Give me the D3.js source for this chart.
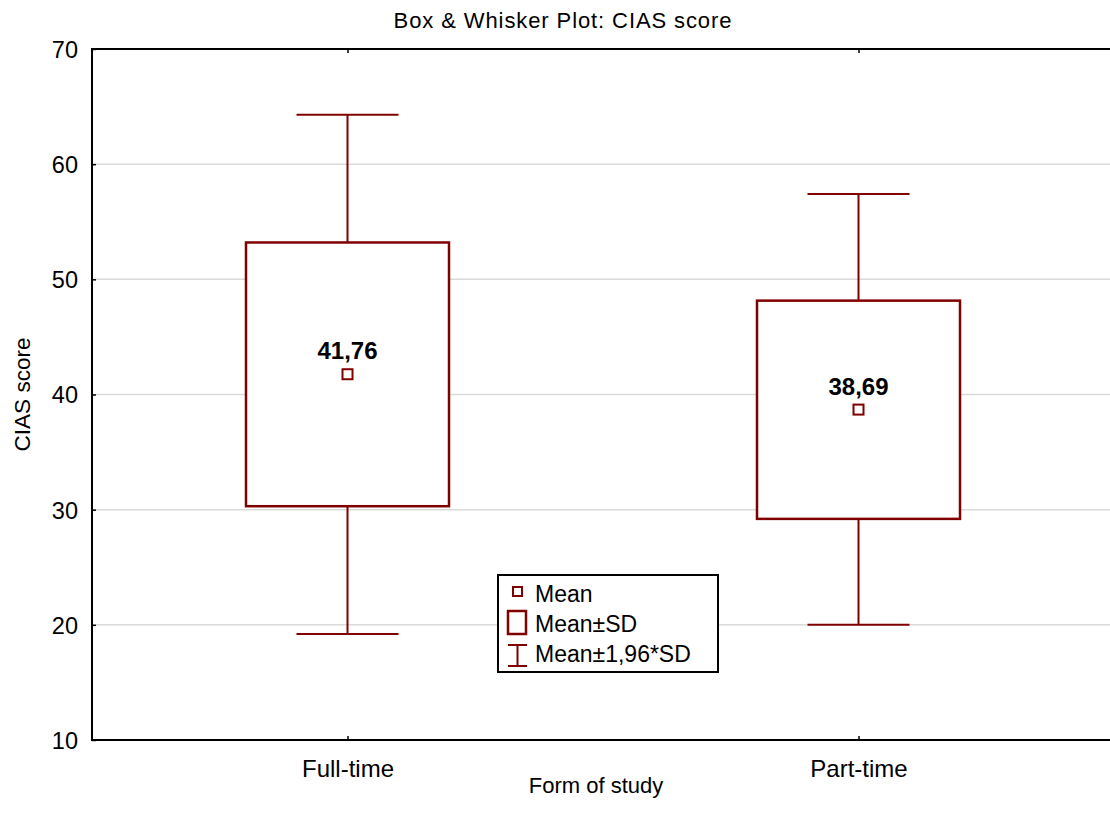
<!DOCTYPE html>
<html>
<head>
<meta charset="utf-8">
<script src="https://cdn.jsdelivr.net/npm/d3@7"></script>
<style>
  body { margin: 0; background: #fff; }
  svg { font-family: Arial, "Liberation Sans", sans-serif; }
</style>
</head>
<body>
<svg id="chart" width="1110" height="825"></svg>
<script>
// values
const groups = ["Full-time", "Part-time"]
const means = [41.76, 38.69]
const sdLow = [30.3, 29.2]
const sdHigh = [53.2, 48.15]
const ciLow = [19.2, 20.0]
const ciHigh = [64.3, 57.4]
const yTicks = [10, 20, 30, 40, 50, 60, 70]

const width = 1110, height = 825
const margin = {left: 92, top: 49, bottom: 85}
const red = "#800000"

const svg = d3.select("#chart")

const x = d3.scalePoint()
    .domain(groups)
    .range([margin.left, 1114])
    .padding(0.5)

const y = d3.scaleLinear()
    .domain([10, 70])
    .range([height - margin.bottom, margin.top])

// grid
svg.append("g")
    .selectAll("line")
    .data(yTicks.filter(t => t > 10 && t < 70))
    .enter()
    .append("line")
    .attr("x1", margin.left)
    .attr("x2", width)
    .attr("y1", d => y(d))
    .attr("y2", d => y(d))
    .style("stroke", "#dadada")
    .style("stroke-width", 1.5)

// y axis, ticks inward
const yAxis = d3.axisLeft(y).tickValues(yTicks).tickSize(-4).tickPadding(14)
const gy = svg.append("g")
    .attr("transform", "translate(" + margin.left + ",0)")
    .call(yAxis)
gy.select(".domain").remove()
gy.selectAll("line").style("stroke", "#000").style("stroke-width", 1.5)
gy.selectAll("text")
    .style("font-size", "23.5px")
    .style("font-family", "Arial, 'Liberation Sans', sans-serif")
    .attr("fill", "#000")
    .attr("dy", "0.36em")

// x axis, ticks inward
const xAxis = d3.axisBottom(x).tickSize(-4).tickPadding(20)
const gx = svg.append("g")
    .attr("transform", "translate(0," + y(10) + ")")
    .call(xAxis)
gx.select(".domain").remove()
gx.selectAll("line").style("stroke", "#000").style("stroke-width", 1.5)
gx.selectAll("text")
    .style("font-size", "24px")
    .style("font-family", "Arial, 'Liberation Sans', sans-serif")
    .attr("fill", "#000")

// top ticks
const xTop = d3.axisTop(x).tickSize(-4).tickFormat("")
const gt = svg.append("g")
    .attr("transform", "translate(0," + y(70) + ")")
    .call(xTop)
gt.select(".domain").remove()
gt.selectAll("line").style("stroke", "#000").style("stroke-width", 1.5)

// frame: left, top, bottom
svg.append("path")
    .attr("d", "M" + width + "," + y(70) + "H" + margin.left + "V" + y(10) + "H" + width)
    .style("fill", "none")
    .style("stroke", "#000")
    .style("stroke-width", 2)

const boxW = 203, capW = 102

const g = svg.append("g")
    .selectAll("g")
    .data(groups.map((d, i) => ({name: d, i: i})))
    .enter()
    .append("g")

// whiskers
g.append("line")
    .attr("x1", d => x(d.name)).attr("x2", d => x(d.name))
    .attr("y1", d => y(ciLow[d.i])).attr("y2", d => y(ciHigh[d.i]))
    .style("stroke", red).style("stroke-width", 2)
g.selectAll(".cap")
    .data(d => [{n: d.name, v: ciLow[d.i]}, {n: d.name, v: ciHigh[d.i]}])
    .enter()
    .append("line")
    .attr("class", "cap")
    .attr("x1", d => x(d.n) - capW / 2).attr("x2", d => x(d.n) + capW / 2)
    .attr("y1", d => y(d.v)).attr("y2", d => y(d.v))
    .style("stroke", red).style("stroke-width", 2)

// boxes
g.append("rect")
    .attr("x", d => x(d.name) - boxW / 2)
    .attr("width", boxW)
    .attr("y", d => y(sdHigh[d.i]))
    .attr("height", d => y(sdLow[d.i]) - y(sdHigh[d.i]))
    .style("fill", "#fff")
    .style("stroke", red)
    .style("stroke-width", 2.5)

// mean markers
g.append("rect")
    .attr("x", d => x(d.name) - 5)
    .attr("y", d => y(means[d.i]) - 5)
    .attr("width", 10).attr("height", 10)
    .style("fill", "#fff")
    .style("stroke", red)
    .style("stroke-width", 2)

g.append("text")
    .attr("x", d => x(d.name))
    .attr("y", d => y(means[d.i]) - 15)
    .style("text-anchor", "middle")
    .style("font-size", "24px")
    .style("font-weight", "bold")
    .text(d => means[d.i].toFixed(2).replace(".", ","))

// titles
svg.append("text")
    .attr("x", 563).attr("y", 28)
    .style("text-anchor", "middle")
    .style("font-size", "22px")
    .style("letter-spacing", "0.9px")
    .text("Box & Whisker Plot: CIAS score")

svg.append("text")
    .attr("x", 596).attr("y", 793)
    .style("text-anchor", "middle")
    .style("font-size", "22px")
    .text("Form of study")

svg.append("text")
    .attr("transform", "translate(30," + y(40) + ") rotate(-90)")
    .style("text-anchor", "middle")
    .style("font-size", "22.5px")
    .text("CIAS score")

// legend
const lg = svg.append("g").attr("transform", "translate(498,575)")
lg.append("rect")
    .attr("width", 220).attr("height", 97)
    .style("fill", "#fff").style("stroke", "#000").style("stroke-width", 2)
lg.append("rect")
    .attr("x", 15).attr("y", 12).attr("width", 9).attr("height", 9)
    .style("fill", "#fff").style("stroke", red).style("stroke-width", 2)
lg.append("rect")
    .attr("x", 10).attr("y", 36).attr("width", 18).attr("height", 23)
    .style("fill", "#fff").style("stroke", red).style("stroke-width", 2.5)
lg.append("path")
    .attr("d", "M10,70H29M19.5,70V91M10,91H29")
    .style("fill", "none").style("stroke", red).style("stroke-width", 2)
const legendLabels = ["Mean", "Mean±SD", "Mean±1,96*SD"]
lg.selectAll(".lt")
    .data(legendLabels)
    .enter()
    .append("text")
    .attr("class", "lt")
    .attr("x", 37)
    .attr("y", (d, i) => 27 + i * 30)
    .style("font-size", "23px")
    .text(d => d)
</script>
</body>
</html>
